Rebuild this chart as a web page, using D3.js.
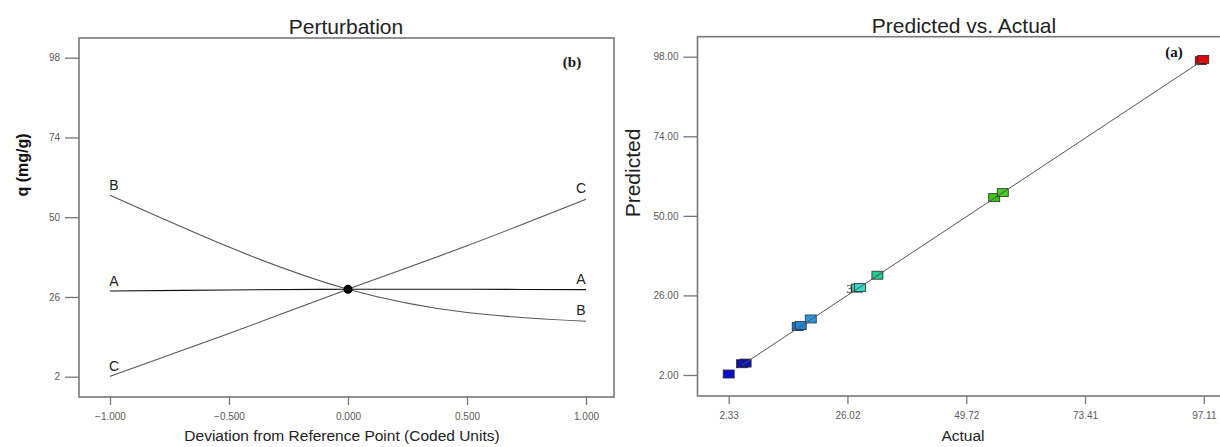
<!DOCTYPE html>
<html>
<head>
<meta charset="utf-8">
<script src="https://cdn.jsdelivr.net/npm/d3@7"></script>
<style>
  body { margin: 0; background: #fff; }
  svg { display: block; }
  .tick text { font-family: "Liberation Sans", Arial, sans-serif; font-size: 10px; fill: #5a5a5a; }
</style>
</head>
<body>
<svg id="chart" width="1220" height="447"></svg>
<script>
// Perturbation (b): response vs coded deviation for factors A, B, C
var deviation = [-1, -0.5, 0, 0.5, 1]
var qA = [27.8, 28.1, 28.3, 28.3, 28.2]
var qB = [56.6, 41.0, 28.3, 21.3, 18.7]
var qC = [2.1, 15.0, 28.3, 41.4, 55.4]
var devTicks = [-1, -0.5, 0, 0.5, 1]
var qTicks = [2, 26, 50, 74, 98]

// Predicted vs. Actual (a)
var actual    = [2.33, 5.0, 5.7, 16.1, 16.7, 18.7, 27.9, 28.5, 32.0, 55.3, 57.0, 96.5, 97.0]
var predicted = [2.3,  5.4, 5.6, 16.6, 16.9, 18.9, 28.2, 28.4, 32.1, 55.5, 57.0, 96.8, 97.2]
var pointColors = ['#0a0ec8', '#0c12b4', '#0c12b4', '#1a78cc', '#1e86d6', '#2a98e0',
                   '#30cfc6', '#38d8cc', '#22c890', '#38c618', '#44cc22', '#d00000', '#e00808']
var actualTicks = [2.33, 26.02, 49.72, 73.41, 97.11]
var predTicks = [2, 26, 50, 74, 98]

var svg = d3.select('#chart')
var sans = '"Liberation Sans", Arial, sans-serif'
var serif = '"Liberation Serif", "Times New Roman", serif'
var frameColor = '#777'

// ---------- left panel ----------
var x1 = d3.scaleLinear().domain([-1, 1]).range([110, 586])
var y1 = d3.scaleLinear().domain([2, 98]).range([376.7, 57.7])
var left = svg.append('g')

left.append('rect')
  .attr('x', 79).attr('y', 38).attr('width', 535).attr('height', 359)
  .attr('fill', 'none').attr('stroke', frameColor).attr('stroke-width', 1.6)

left.append('g')
  .attr('transform', 'translate(0,397)')
  .call(d3.axisBottom(x1).tickValues(devTicks).tickSize(8).tickPadding(8).tickFormat(d3.format('.3f')))
  .call(function(g) {
    g.select('.domain').remove()
    g.selectAll('line').attr('stroke', frameColor).attr('stroke-width', 1.3)
  })

left.append('g')
  .attr('transform', 'translate(79,0)')
  .call(d3.axisLeft(y1).tickValues(qTicks).tickSize(14).tickPadding(5))
  .call(function(g) {
    g.select('.domain').remove()
    g.selectAll('line').attr('stroke', frameColor).attr('stroke-width', 1.3)
  })

var curve = d3.line()
  .x(function(d, i) { return x1(deviation[i]) })
  .y(function(d) { return y1(d) })
  .curve(d3.curveNatural)

var series = [
  { name: 'A', values: qA, color: '#111' },
  { name: 'B', values: qB, color: '#555' },
  { name: 'C', values: qC, color: '#555' }
]

series.forEach(function(s) {
  left.append('path')
    .attr('d', curve(s.values))
    .attr('fill', 'none')
    .attr('stroke', s.color)
    .attr('stroke-width', 1.1)
  left.append('text')
    .attr('x', x1(-1) + 4).attr('y', y1(s.values[0]) - 5)
    .attr('text-anchor', 'middle')
    .attr('font-family', sans).attr('font-size', 14).attr('fill', '#222')
    .text(s.name)
  left.append('text')
    .attr('x', x1(1) - 5).attr('y', y1(s.values[4]) - 6)
    .attr('text-anchor', 'middle')
    .attr('font-family', sans).attr('font-size', 14).attr('fill', '#222')
    .text(s.name)
})

left.append('circle')
  .attr('cx', x1(0)).attr('cy', y1(qA[2]))
  .attr('r', 4.5).attr('fill', '#000')

left.append('text')
  .attr('x', 346).attr('y', 34)
  .attr('text-anchor', 'middle')
  .attr('font-family', sans).attr('font-size', 21).attr('fill', '#222')
  .text('Perturbation')

left.append('text')
  .attr('x', 342).attr('y', 441)
  .attr('text-anchor', 'middle')
  .attr('font-family', sans).attr('font-size', 15.5).attr('fill', '#222')
  .text('Deviation from Reference Point (Coded Units)')

left.append('text')
  .attr('transform', 'translate(28,165) rotate(-90)')
  .attr('text-anchor', 'middle')
  .attr('font-family', sans).attr('font-size', 16).attr('font-weight', 'bold').attr('fill', '#111')
  .text('q (mg/g)')

left.append('text')
  .attr('x', 572).attr('y', 67)
  .attr('text-anchor', 'middle')
  .attr('font-family', serif).attr('font-size', 15).attr('font-weight', 'bold').attr('fill', '#111')
  .text('(b)')

// ---------- right panel ----------
var x2 = d3.scaleLinear().domain([2.33, 97.11]).range([728.7, 1203.8])
var y2 = d3.scaleLinear().domain([2, 98]).range([375, 56.7])
var right = svg.append('g')

right.append('rect')
  .attr('x', 697.5).attr('y', 36.7).attr('width', 530).attr('height', 359.3)
  .attr('fill', 'none').attr('stroke', frameColor).attr('stroke-width', 1.6)

right.append('g')
  .attr('transform', 'translate(0,396)')
  .call(d3.axisBottom(x2).tickValues(actualTicks).tickSize(8).tickPadding(8).tickFormat(d3.format('.2f')))
  .call(function(g) {
    g.select('.domain').remove()
    g.selectAll('line').attr('stroke', frameColor).attr('stroke-width', 1.3)
  })

right.append('g')
  .attr('transform', 'translate(697.5,0)')
  .call(d3.axisLeft(y2).tickValues(predTicks).tickSize(14).tickPadding(5).tickFormat(d3.format('.2f')))
  .call(function(g) {
    g.select('.domain').remove()
    g.selectAll('line').attr('stroke', frameColor).attr('stroke-width', 1.3)
  })

var pts = actual.map(function(a, i) { return { a: a, p: predicted[i], c: pointColors[i] } })

right.selectAll('rect.pt')
  .data(pts)
  .enter().append('rect')
  .attr('class', 'pt')
  .attr('x', function(d) { return x2(d.a) - 5.5 })
  .attr('y', function(d) { return y2(d.p) - 4 })
  .attr('width', 11).attr('height', 8)
  .attr('fill', function(d) { return d.c })
  .attr('stroke', '#2a2a2a').attr('stroke-width', 0.8)

right.append('line')
  .attr('x1', x2(actual[1])).attr('y1', y2(actual[1]))
  .attr('x2', x2(96.8)).attr('y2', y2(96.8))
  .attr('stroke', '#555').attr('stroke-width', 1)

right.append('text')
  .attr('x', x2(27.9) - 4).attr('y', y2(28.2) + 5)
  .attr('text-anchor', 'end')
  .attr('font-family', serif).attr('font-size', 13).attr('fill', '#222')
  .text('3')

right.append('text')
  .attr('x', 964).attr('y', 33)
  .attr('text-anchor', 'middle')
  .attr('font-family', sans).attr('font-size', 21).attr('fill', '#222')
  .text('Predicted vs. Actual')

right.append('text')
  .attr('x', 963).attr('y', 441)
  .attr('text-anchor', 'middle')
  .attr('font-family', sans).attr('font-size', 15.5).attr('fill', '#222')
  .text('Actual')

right.append('text')
  .attr('transform', 'translate(640,173) rotate(-90)')
  .attr('text-anchor', 'middle')
  .attr('font-family', sans).attr('font-size', 21).attr('fill', '#222')
  .text('Predicted')

right.append('text')
  .attr('x', 1174).attr('y', 57)
  .attr('text-anchor', 'middle')
  .attr('font-family', serif).attr('font-size', 15).attr('font-weight', 'bold').attr('fill', '#111')
  .text('(a)')
</script>
</body>
</html>
